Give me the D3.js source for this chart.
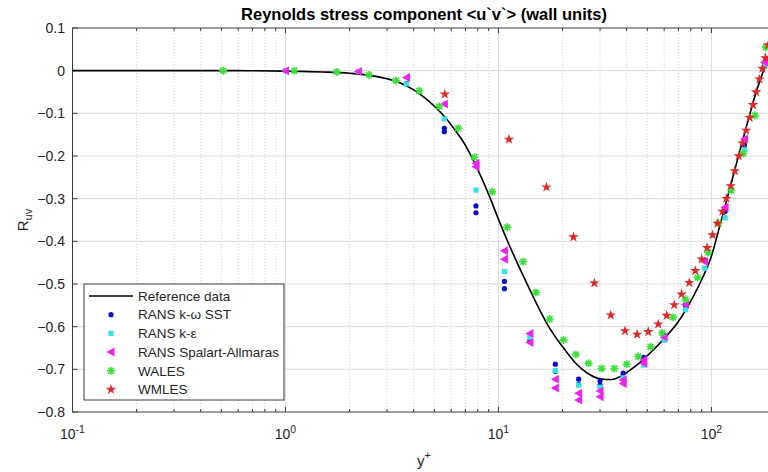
<!DOCTYPE html>
<html>
<head>
<meta charset="utf-8">
<script src="https://cdn.jsdelivr.net/npm/d3@7/dist/d3.min.js"></script>
<style>
  html, body { margin: 0; padding: 0; background: #fff; }
  svg text { font-family: "Liberation Sans", Arial, Helvetica, sans-serif; }
</style>
</head>
<body>
<svg id="chart" width="768" height="472"></svg>
<script>
// ════════════════════════════════════════════════════════
//  Reynolds stress <u'v'> in wall units — log-x scatter + reference line
// ════════════════════════════════════════════════════════

// Reference profile (black line): y+ and R_uv
const REF_YPLUS = [0.1, 0.3, 0.6, 1.0, 1.5, 2.0, 2.5, 3.0, 3.5, 4.0, 4.5, 5.0, 5.5, 6.0, 7.0, 8.0, 9.0,
    10, 11, 12.5, 14, 15, 17, 20, 23, 26, 30, 34, 38, 42, 46, 50, 55, 60, 70, 80, 90,
    100, 110, 120, 130, 140, 150, 160, 170, 180, 190, 200];
const REF_RUV = [0, 0, 0, -0.001, -0.003, -0.006, -0.011, -0.019, -0.030, -0.045, -0.063, -0.083, -0.104, -0.127, -0.175, -0.232, -0.29,
    -0.348, -0.398, -0.46, -0.512, -0.543, -0.595, -0.647, -0.685, -0.708, -0.722, -0.724, -0.715, -0.70, -0.685, -0.668, -0.648, -0.628, -0.588, -0.54, -0.49,
    -0.435, -0.36, -0.29, -0.225, -0.165, -0.11, -0.06, -0.02, 0.015, 0.05, 0.085];

// RANS k-omega SST (blue dots)
const SST_YPLUS = [1.0, 2.2, 3.7, 5.57, 5.57, 7.84, 7.84, 10.67, 10.67, 14.05, 18.5, 18.5, 23.8, 23.8, 30, 30, 38.5, 48.1, 60, 75.5, 93, 116, 143, 178];
const SST_RUV   = [0, -0.002, -0.03, -0.135, -0.143, -0.317, -0.333, -0.494, -0.511, -0.633, -0.688, -0.705, -0.723, -0.735, -0.727, -0.737, -0.709, -0.672, -0.62, -0.549, -0.444, -0.33, -0.174, 0.015];

// RANS k-epsilon (cyan squares)
const KE_YPLUS = [1.0, 2.2, 3.7, 5.57, 7.84, 10.67, 14.05, 18.5, 23.8, 30, 38.5, 48.1, 60, 75.5, 93, 116, 143, 178];
const KE_RUV   = [0, -0.002, -0.031, -0.113, -0.28, -0.471, -0.625, -0.703, -0.737, -0.742, -0.72, -0.69, -0.632, -0.56, -0.463, -0.345, -0.185, 0.01];

// RANS Spalart-Allmaras (magenta left triangles)
const SA_YPLUS = [1.0, 2.2, 3.7, 5.57, 7.84, 7.84, 10.67, 10.67, 14.05, 14.05, 18.5, 18.5, 23.8, 23.8, 30, 30, 38.5, 38.5, 48.1, 48.1, 60, 75.5, 93, 116, 143, 178];
const SA_RUV   = [0, -0.002, -0.016, -0.078, -0.217, -0.225, -0.422, -0.442, -0.616, -0.637, -0.723, -0.744, -0.756, -0.772, -0.751, -0.764, -0.725, -0.733, -0.678, -0.686, -0.625, -0.548, -0.448, -0.32, -0.16, 0.02];

// WALES (green asterisks)
const WALES_YPLUS = [0.51, 1.1, 1.74, 2.47, 3.3, 4.25, 5.27, 6.47, 7.7, 9.35, 11.0, 13.05, 15.0, 17.4, 20.2, 23.1, 26.5, 30.5, 35, 40, 45.3, 51.8,
    58.7, 66.1, 75.6, 86.2, 96.6, 108, 124, 141, 160, 180];
const WALES_RUV   = [0, 0, -0.003, -0.01, -0.023, -0.047, -0.084, -0.135, -0.203, -0.284, -0.367, -0.448, -0.52, -0.582, -0.631, -0.665, -0.686, -0.698, -0.698, -0.688, -0.67, -0.647,
    -0.615, -0.578, -0.536, -0.485, -0.426, -0.358, -0.281, -0.194, -0.105, 0.055];

// WMLES (red stars)
const WMLES_YPLUS = [5.6, 11.2, 16.8, 22.5, 28.2, 33.7, 39.3, 44.8, 50.5, 56.3, 61.6, 66.9, 72.4, 78.7, 84, 90, 95.5, 101.3, 106.9, 112.7,
    117.6, 123.2, 128.8, 134.4, 140, 145.6, 151.2, 156.8, 162.4, 168, 173.6, 179.2, 184.8];
const WMLES_RUV   = [-0.055, -0.161, -0.273, -0.39, -0.498, -0.573, -0.61, -0.618, -0.612, -0.594, -0.574, -0.549, -0.524, -0.497, -0.469, -0.442, -0.415, -0.385, -0.358, -0.33,
    -0.30, -0.27, -0.235, -0.20, -0.17, -0.14, -0.11, -0.08, -0.05, -0.02, 0.005, 0.03, 0.06];

const Y_TICKS = [0.1, 0, -0.1, -0.2, -0.3, -0.4, -0.5, -0.6, -0.7, -0.8];
const X_DECADES = [0.1, 1, 10, 100];
const X_DECADE_EXP = ["-1", "0", "1", "2"];
const LEGEND_LABELS = ["Reference data", "RANS k-\u03C9 SST", "RANS k-\u03B5", "RANS Spalart-Allmaras", "WALES", "WMLES"];

const AXIS_COL = "#3a3a3a";
const TEXT_COL = "#262626";

const svg = d3.select("#chart");
const margin = { top: 28, left: 72.5, bottom: 60 };
const plotRight = 775.5;   // axes run a little past the image edge
const plotBottom = 472 - margin.bottom;

const x = d3.scaleLog().domain([0.1, 200]).range([margin.left, plotRight]);
const y = d3.scaleLinear().domain([-0.8, 0.1]).range([plotBottom, margin.top]);

const zip = (xs, ys) => xs.map((v, i) => [v, ys[i]]);

// ── grid ──
const minorTicks = [];
X_DECADES.forEach(d => { for (let k = 2; k <= 9; k++) if (d * k <= 200) minorTicks.push(d * k); });

const grid = svg.append("g").attr("class", "grid");
grid.selectAll("line.minor").data(minorTicks).enter().append("line")
    .attr("x1", d => x(d)).attr("x2", d => x(d))
    .attr("y1", margin.top).attr("y2", plotBottom)
    .attr("stroke", "#c8c8c8").attr("stroke-width", 0.8).attr("stroke-dasharray", "1,2");
grid.selectAll("line.majx").data(X_DECADES.slice(1)).enter().append("line")
    .attr("x1", d => x(d)).attr("x2", d => x(d))
    .attr("y1", margin.top).attr("y2", plotBottom)
    .attr("stroke", "#dcdcdc").attr("stroke-width", 1);
grid.selectAll("line.majy").data(Y_TICKS.slice(1, -1)).enter().append("line")
    .attr("x1", margin.left).attr("x2", plotRight)
    .attr("y1", d => y(d)).attr("y2", d => y(d))
    .attr("stroke", "#dcdcdc").attr("stroke-width", 1);

// ── axes box + ticks (MATLAB style, ticks inward) ──
const ax = svg.append("g").attr("class", "axes");
ax.append("path")
    .attr("d", `M${plotRight},${margin.top}H${margin.left}V${plotBottom}H${plotRight}`)
    .attr("fill", "none").attr("stroke", AXIS_COL).attr("stroke-width", 1);

[plotBottom, margin.top].forEach(yy => {
    const dir = yy === plotBottom ? -1 : 1;
    ax.selectAll(null).data(X_DECADES).enter().append("line")
        .attr("x1", d => x(d)).attr("x2", d => x(d))
        .attr("y1", yy).attr("y2", yy + dir * 5)
        .attr("stroke", AXIS_COL);
    ax.selectAll(null).data(minorTicks).enter().append("line")
        .attr("x1", d => x(d)).attr("x2", d => x(d))
        .attr("y1", yy).attr("y2", yy + dir * 3)
        .attr("stroke", AXIS_COL);
});
ax.selectAll(null).data(Y_TICKS).enter().append("line")
    .attr("x1", margin.left).attr("x2", margin.left + 5)
    .attr("y1", d => y(d)).attr("y2", d => y(d))
    .attr("stroke", AXIS_COL);

// y tick labels
ax.selectAll(null).data(Y_TICKS).enter().append("text")
    .attr("x", margin.left - 7.5).attr("y", d => y(d)).attr("dy", "0.35em")
    .attr("text-anchor", "end").attr("font-size", 14).attr("fill", TEXT_COL)
    .text(d => d3.format("")(d));

// x tick labels 10^n
X_DECADES.forEach((d, i) => {
    const t = ax.append("text")
        .attr("x", x(d)).attr("y", plotBottom + 27)
        .attr("text-anchor", "middle").attr("font-size", 14).attr("fill", TEXT_COL);
    t.append("tspan").text("10");
    t.append("tspan").attr("dy", -6.5).attr("font-size", 10.5).text(X_DECADE_EXP[i]);
});

// title + axis labels
svg.append("text").attr("x", (margin.left + plotRight) / 2).attr("y", 20)
    .attr("text-anchor", "middle").attr("font-size", 16.5).attr("font-weight", "bold")
    .attr("fill", "#000").text("Reynolds stress component <u`v`> (wall units)");

const xl = svg.append("text").attr("x", (margin.left + plotRight) / 2).attr("y", 466)
    .attr("text-anchor", "middle").attr("font-size", 15).attr("fill", TEXT_COL);
xl.append("tspan").text("y");
xl.append("tspan").attr("dy", -7).attr("font-size", 11).text("+");

const yl = svg.append("text")
    .attr("transform", `translate(28,${(margin.top + plotBottom) / 2}) rotate(-90)`)
    .attr("text-anchor", "middle").attr("font-size", 15).attr("fill", TEXT_COL);
yl.append("tspan").text("R");
yl.append("tspan").attr("dy", 4).attr("font-size", 11).text("uv");

// ── reference line ──
const lineGen = d3.line().x(d => x(d[0])).y(d => y(d[1])).curve(d3.curveMonotoneX);
svg.append("path").datum(zip(REF_YPLUS, REF_RUV))
    .attr("d", lineGen).attr("fill", "none").attr("stroke", "#000").attr("stroke-width", 1.6);

// ── marker makers ──
const MARKERS = {
    dot:  { draw: (g) => g.append("circle").attr("r", 2.6).attr("fill", "#0b0bd0") },
    sq:   { draw: (g) => g.append("rect").attr("x", -2.6).attr("y", -2.6).attr("width", 5.2).attr("height", 5.2).attr("fill", "#33e3e8") },
    tri:  { draw: (g) => g.append("path").attr("d", "M-4.5,0L3.5,-4.5L3.5,4.5Z").attr("fill", "#ee22ee") },
    ast:  { draw: (g) => g.append("path").attr("d", "M-4,0H4M0,-4V4M-2.9,-2.9L2.9,2.9M-2.9,2.9L2.9,-2.9")
              .attr("stroke", "#3be03b").attr("stroke-width", 1.6).attr("fill", "none") },
    star: { draw: (g) => g.append("path").attr("d", d3.symbol(d3.symbolStar, 34)()).attr("fill", "#e02828") }
};

function drawSeries(xs, ys, kind) {
    const gs = svg.append("g").attr("class", "series-" + kind)
        .selectAll("g").data(zip(xs, ys)).enter().append("g")
        .attr("transform", d => `translate(${x(d[0])},${y(d[1])})`);
    gs.each(function () { MARKERS[kind].draw(d3.select(this)); });
}

drawSeries(SST_YPLUS, SST_RUV, "dot");
drawSeries(KE_YPLUS, KE_RUV, "sq");
drawSeries(SA_YPLUS, SA_RUV, "tri");
drawSeries(WALES_YPLUS, WALES_RUV, "ast");
drawSeries(WMLES_YPLUS, WMLES_RUV, "star");

// ── legend (lower left, boxed) ──
const lg = svg.append("g").attr("class", "legend").attr("transform", "translate(84,284)");
lg.append("rect").attr("width", 200).attr("height", 116)
    .attr("fill", "#fff").attr("stroke", AXIS_COL).attr("stroke-width", 1);
const kinds = [null, "dot", "sq", "tri", "ast", "star"];
LEGEND_LABELS.forEach((lab, i) => {
    const cy = 12 + i * 18.7;
    if (i === 0) {
        lg.append("line").attr("x1", 5).attr("x2", 49).attr("y1", cy).attr("y2", cy)
            .attr("stroke", "#000").attr("stroke-width", 1.6);
    } else {
        MARKERS[kinds[i]].draw(lg.append("g").attr("transform", `translate(27,${cy})`));
    }
    lg.append("text").attr("x", 54).attr("y", cy).attr("dy", "0.35em")
        .attr("font-size", 13.5).attr("fill", TEXT_COL).text(lab);
});
</script>
</body>
</html>
